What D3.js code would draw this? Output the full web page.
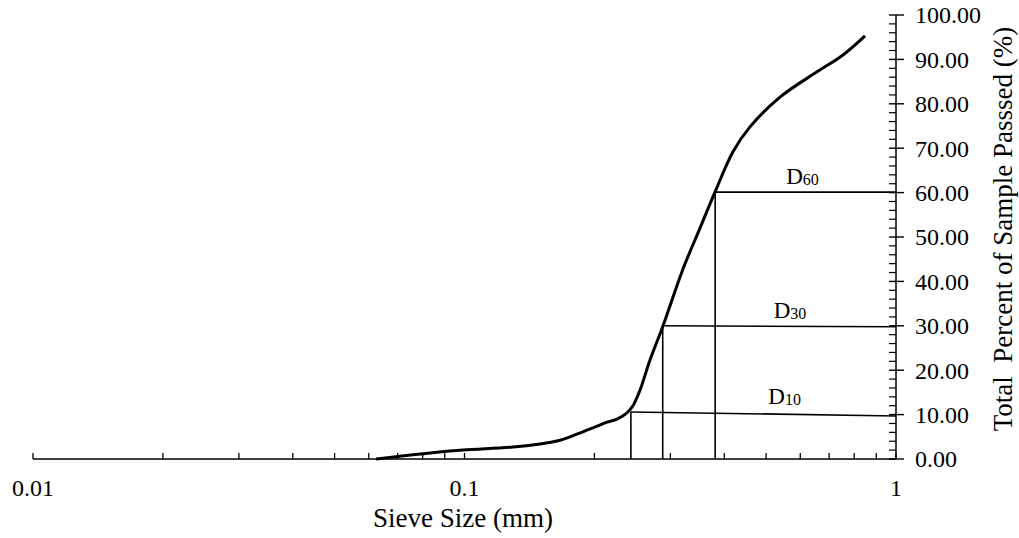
<!DOCTYPE html>
<html>
<head>
<meta charset="utf-8">
<script src="https://cdn.jsdelivr.net/npm/d3@7"></script>
<style>
  body { margin: 0; background: #fff; }
  text { font-family: "Liberation Serif", "Times New Roman", Times, "DejaVu Serif", serif; }
</style>
</head>
<body>
<div id="chart"></div>
<script>
// sieve size (mm) and cumulative percent passing
var sieve_size = [0.0624, 0.0832, 0.0992, 0.1295, 0.1496, 0.1638, 0.1822, 0.2028, 0.2139, 0.2257,
  0.2380, 0.2457, 0.2551, 0.2691, 0.2884, 0.3209, 0.3514, 0.3806, 0.4190, 0.4588,
  0.5385, 0.6560, 0.7537, 0.8477];
var percent_passed = [0, 1.35, 2.0, 2.7, 3.4, 4.05, 5.6, 7.4, 8.3, 9.0,
  10.4, 12.0, 15.5, 22.3, 29.95, 42.8, 52.0, 60.1, 69.2, 74.8,
  81.5, 87.2, 91.0, 95.3];

// characteristic diameters
var d_names = ['10', '30', '60'];
var d_size = [0.243, 0.288, 0.381];
var d_level_left = [10.6, 30.0, 60.1];
var d_level_right = [9.7, 29.8, 60.1];
var d_label_at = [0.552, 0.568, 0.607];

var x_ticks = [0.01, 0.1, 1];
var x_tick_labels = ['0.01', '0.1', '1'];
var y_ticks = [0, 10, 20, 30, 40, 50, 60, 70, 80, 90, 100];

var width = 1019, height = 538;
var x0 = 33, x1 = 896, y0 = 459, y1 = 15;
var serif = '"Liberation Serif", "Times New Roman", Times, "DejaVu Serif", serif';

var svg = d3.select('#chart').append('svg:svg')
  .attr('width', width)
  .attr('height', height)
  .attr('font-family', serif);

var x = d3.scaleLog().domain([0.01, 1]).range([x0, x1]);
var y = d3.scaleLinear().domain([0, 100]).range([y0, y1]);

// x axis: ticks point up into the plot
var minor_x = [];
[0.01, 0.1].forEach(function(dec) {
  for (var k = 2; k <= 9; k++) minor_x.push(dec * k);
});
var xg = svg.append('svg:g').attr('class', 'x_axis');
xg.append('svg:line')
  .attr('x1', x0).attr('x2', x1).attr('y1', y0).attr('y2', y0)
  .attr('stroke', '#000').attr('stroke-width', 1.5);
xg.selectAll('line.tick')
  .data(x_ticks.concat(minor_x))
  .join('svg:line')
  .attr('class', 'tick')
  .attr('x1', d => x(d)).attr('x2', d => x(d))
  .attr('y1', y0).attr('y2', y0 - 6)
  .attr('stroke', '#000').attr('stroke-width', 1.3);
xg.selectAll('text')
  .data(x_ticks)
  .join('svg:text')
  .attr('x', d => x(d))
  .attr('y', 496)
  .attr('text-anchor', 'middle')
  .attr('font-size', 24)
  .text((d, i) => x_tick_labels[i]);
svg.append('svg:text')
  .attr('x', 463)
  .attr('y', 527)
  .attr('text-anchor', 'middle')
  .attr('font-size', 27)
  .text('Sieve Size (mm)');

// y axis on the right
var yg = svg.append('svg:g').attr('class', 'y_axis');
yg.append('svg:line')
  .attr('x1', x1).attr('x2', x1).attr('y1', y0).attr('y2', y1)
  .attr('stroke', '#000').attr('stroke-width', 1.5);
yg.selectAll('line.minor')
  .data(d3.range(0, 101, 2).filter(v => v % 10 !== 0))
  .join('svg:line')
  .attr('class', 'minor')
  .attr('x1', x1 - 7).attr('x2', x1)
  .attr('y1', d => y(d)).attr('y2', d => y(d))
  .attr('stroke', '#000').attr('stroke-width', 1.2);
yg.selectAll('line.major')
  .data(y_ticks)
  .join('svg:line')
  .attr('class', 'major')
  .attr('x1', x1 - 7).attr('x2', x1 + 8)
  .attr('y1', d => y(d)).attr('y2', d => y(d))
  .attr('stroke', '#000').attr('stroke-width', 1.4);
yg.selectAll('text')
  .data(y_ticks)
  .join('svg:text')
  .attr('x', 915)
  .attr('y', d => y(d))
  .attr('dy', '0.35em')
  .attr('font-size', 24)
  .text(d => d.toFixed(2));
svg.append('svg:text')
  .attr('transform', 'translate(1012,229) rotate(-90)')
  .attr('text-anchor', 'middle')
  .attr('font-size', 27)
  .style('white-space', 'pre')
  .text('Total  Percent of Sample Passsed (%)');

// D lines
var dg = svg.append('svg:g').attr('class', 'd_lines');
dg.selectAll('line.v')
  .data(d_size)
  .join('svg:line')
  .attr('class', 'v')
  .attr('x1', d => x(d)).attr('x2', d => x(d))
  .attr('y1', y0).attr('y2', (d, i) => y(d_level_left[i]))
  .attr('stroke', '#000').attr('stroke-width', 1.6);
dg.selectAll('line.h')
  .data(d_size)
  .join('svg:line')
  .attr('class', 'h')
  .attr('x1', d => x(d)).attr('x2', x1)
  .attr('y1', (d, i) => y(d_level_left[i]))
  .attr('y2', (d, i) => y(d_level_right[i]))
  .attr('stroke', '#000').attr('stroke-width', 1.6);
var lab = dg.selectAll('text')
  .data(d_names)
  .join('svg:text')
  .attr('x', (d, i) => x(d_label_at[i]))
  .attr('y', (d, i) => y(d_level_left[i]) - 8)
  .attr('text-anchor', 'middle')
  .attr('font-size', 23);
lab.append('svg:tspan').text('D');
lab.append('svg:tspan').attr('font-size', 16).attr('dy', 1).text(d => d);

// grading curve
var line = d3.line()
  .x((d, i) => x(sieve_size[i]))
  .y((d, i) => y(percent_passed[i]))
  .curve(d3.curveCatmullRom.alpha(0.5));
svg.append('svg:path')
  .datum(sieve_size)
  .attr('d', line)
  .attr('fill', 'none')
  .attr('stroke', '#000')
  .attr('stroke-width', 3);
</script>
</body>
</html>
